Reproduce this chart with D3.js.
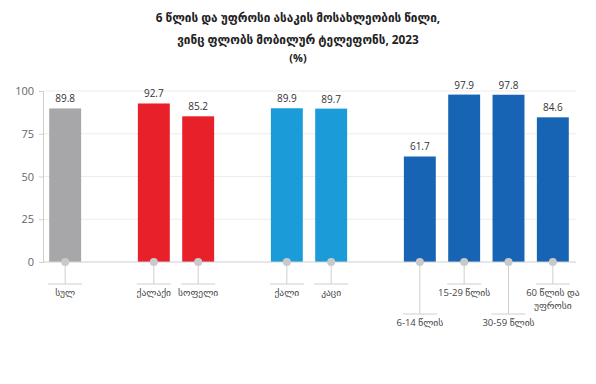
<!DOCTYPE html>
<html><head><meta charset="utf-8">
<script src="https://cdn.jsdelivr.net/npm/d3@7"></script>
<style>
html,body{margin:0;padding:0;background:#fff;}
svg{display:block;font-family:"Open Sans","DejaVu Sans",sans-serif;}
</style></head>
<body><svg id="c" width="596" height="384"></svg>
<script>
const titleLines = ["6 წლის და უფროსი ასაკის მოსახლეობის წილი,", "ვინც ფლობს მობილურ ტელეფონს, 2023", "(%)"];
const groups = [0, 1, 1, 2, 2, 3, 3, 3, 3];
const categories = ["სულ", "ქალაქი", "სოფელი", "ქალი", "კაცი", "6-14 წლის", "15-29 წლის", "30-59 წლის", "60 წლის და\nუფროსი"];
const values = [89.8, 92.7, 85.2, 89.9, 89.7, 61.7, 97.9, 97.8, 84.6];
const groupColors = ["#a7a7aa", "#e8202a", "#1b9bd7", "#1664b3"];
const labelLevel = [0, 0, 0, 0, 0, 1, 0, 1, 0];
const yTicks = [0, 25, 50, 75, 100];

const svg = d3.select("#c");
const domain = [];
categories.forEach((c, i) => {
  if (i > 0 && groups[i] !== groups[i - 1]) domain.push("gap" + i);
  domain.push(c);
});
const x = d3.scaleBand().domain(domain).range([43, 575]).paddingInner(0.28).paddingOuter(0.14);
const y = d3.scaleLinear().domain([0, 100]).range([262, 91]);

svg.append("g").selectAll("text").data(titleLines).join("text")
  .attr("x", 298).attr("y", (d, i) => [22, 44, 62][i])
  .attr("text-anchor", "middle").attr("font-size", (d, i) => i < 2 ? 11.8 : 11).attr("font-weight", "bold")
  .attr("fill", "#222").text(d => d);

svg.append("g").selectAll("line").data(yTicks.filter(t => t > 0)).join("line")
  .attr("x1", 43).attr("x2", 576).attr("y1", d => y(d)).attr("y2", d => y(d))
  .attr("stroke", "#ececec").attr("stroke-width", 1);

const yAxis = svg.append("g").attr("transform", "translate(43,0)")
  .call(d3.axisLeft(y).tickValues(yTicks).tickSize(4).tickPadding(5));
yAxis.select(".domain").attr("stroke", "#cfcfcf");
yAxis.selectAll(".tick line").attr("stroke", "#cfcfcf");
yAxis.selectAll(".tick text").attr("fill", "#666").attr("font-size", 11)
  .attr("font-family", "'Open Sans','DejaVu Sans',sans-serif");

svg.append("g").selectAll("rect").data(values).join("rect")
  .attr("x", (d, i) => x(categories[i])).attr("width", x.bandwidth())
  .attr("y", d => y(d)).attr("height", d => y(0) - y(d))
  .attr("fill", (d, i) => groupColors[groups[i]]);

svg.append("line").attr("x1", 43).attr("x2", 576).attr("y1", y(0)).attr("y2", y(0))
  .attr("stroke", "#cfcfcf").attr("stroke-width", 1);

svg.append("g").selectAll("text").data(values).join("text")
  .attr("x", (d, i) => x(categories[i]) + x.bandwidth() / 2)
  .attr("y", d => y(d) - 6).attr("text-anchor", "middle")
  .attr("font-size", 10).attr("fill", "#333").text(d => d.toFixed(1));

const lvlY = [284, 314];
const cg = svg.append("g");
categories.forEach((c, i) => {
  const cx = x(c) + x.bandwidth() / 2;
  const ly = lvlY[labelLevel[i]];
  cg.append("line").attr("x1", cx).attr("x2", cx).attr("y1", y(0)).attr("y2", ly)
    .attr("stroke", "#cfcfcf").attr("stroke-width", 1);
  cg.append("line").attr("x1", cx - 17).attr("x2", cx + 17).attr("y1", ly).attr("y2", ly)
    .attr("stroke", "#cfcfcf").attr("stroke-width", 1);
  cg.append("circle").attr("cx", cx).attr("cy", y(0)).attr("r", 4).attr("fill", "#c9c9cc");
  const lines = c.split("\n");
  cg.append("text").attr("x", cx).attr("y", ly + 12).attr("text-anchor", "middle")
    .attr("font-size", 9.5).attr("fill", "#444")
    .selectAll("tspan").data(lines).join("tspan")
    .attr("x", cx).attr("dy", (d, k) => k === 0 ? 0 : 13).text(d => d);
});
</script></body></html>
